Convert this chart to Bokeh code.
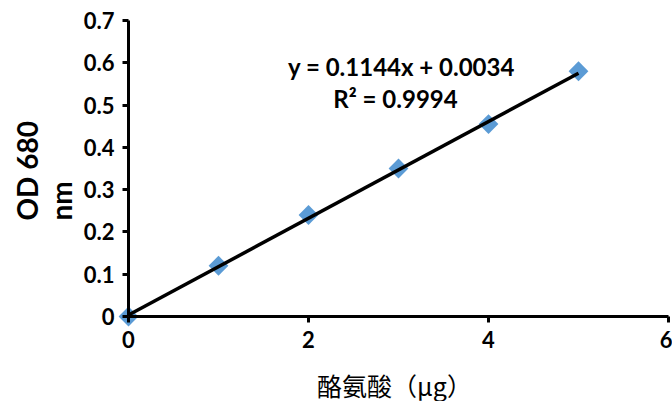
import math
from bokeh.plotting import figure
from bokeh.models import Label, FixedTicker, Range1d
from bokeh.embed import file_html
from bokeh.resources import INLINE

# ---- data ----
x_vals = [0, 1, 2, 3, 4, 5]
y_vals = [0.0, 0.12, 0.24, 0.35, 0.455, 0.58]
trend_slope = 0.1144
trend_intercept = 0.0034
trend_x = [0, 5]
x_ticks = [0, 2, 4, 6]
x_tick_labels = ["0", "2", "4", "6"]
y_ticks = [0, 0.1, 0.2, 0.3, 0.4, 0.5, 0.6, 0.7]
y_tick_labels = ["0", "0.1", "0.2", "0.3", "0.4", "0.5", "0.6", "0.7"]
eq_text = "y = 0.1144x + 0.0034"
r2_text = "R\u00b2 = 0.9994"
x_title = "酪氨酸（μg）"
y_title_lines = ["OD 680", "nm"]

trend_y = [trend_slope * xx + trend_intercept for xx in trend_x]

# frame covers the whole canvas; axes are placed at the data origin
W, H = 672, 401
ox, oy = 128, 316          # pixel position of the origin
sx, sy = 90.0, 296 / 0.7   # pixels per unit
p = figure(width=W, height=H, output_backend="svg", toolbar_location=None,
           x_range=Range1d(-ox / sx, (W - ox) / sx),
           y_range=Range1d(-(H - oy) / sy, oy / sy),
           min_border=0)
p.outline_line_color = None
p.grid.visible = False
p.background_fill_color = "white"
p.border_fill_color = "white"

for ax, ticks, labels, bnds in ((p.xaxis[0], x_ticks, x_tick_labels, (0, 6)),
                                (p.yaxis[0], y_ticks, y_tick_labels, (0, 0.7))):
    ax.ticker = FixedTicker(ticks=ticks)
    ax.major_label_overrides = {t: l for t, l in zip(ticks, labels)}
    ax.fixed_location = 0
    ax.bounds = bnds
    ax.axis_line_width = 3
    ax.axis_line_color = "black"
    ax.major_tick_line_width = 3
    ax.major_tick_line_color = "black"
    ax.major_tick_out = 6
    ax.major_tick_in = 0
    ax.minor_tick_line_color = None
    ax.major_label_text_font = "Lato"
    ax.major_label_text_font_style = "bold"
    ax.major_label_text_font_size = "22px"
    ax.major_label_text_color = "black"
    ax.major_label_standoff = 8

p.scatter(x_vals, y_vals, marker="square", size=14, angle=math.pi / 4,
          fill_color="#5B9BD5", line_color=None)
p.line(trend_x, trend_y, line_color="black", line_width=3.5)

lab_common = dict(x_units="screen", y_units="screen", text_color="black")
p.add_layout(Label(x=26, y=H - 220, text=y_title_lines[0], angle=math.pi / 2,
                   text_align="left", text_baseline="middle", text_font="Lato",
                   text_font_style="bold", text_font_size="28px", **lab_common))
p.add_layout(Label(x=60, y=H - 220, text=y_title_lines[1], angle=math.pi / 2,
                   text_align="left", text_baseline="middle", text_font="Lato",
                   text_font_style="bold", text_font_size="28px", **lab_common))
p.add_layout(Label(x=394, y=H - 384, text=x_title, text_align="center", text_baseline="middle",
                   text_font="Noto Sans CJK SC", text_font_size="25px", **lab_common))
p.add_layout(Label(x=401, y=H - 66, text=eq_text, text_align="center", text_baseline="middle",
                   text_font="Lato", text_font_style="bold", text_font_size="24px", **lab_common))
p.add_layout(Label(x=395, y=H - 98, text=r2_text, text_align="center", text_baseline="middle",
                   text_font="Lato", text_font_style="bold", text_font_size="24px", **lab_common))

open("out.html", "w").write(file_html(p, INLINE))
